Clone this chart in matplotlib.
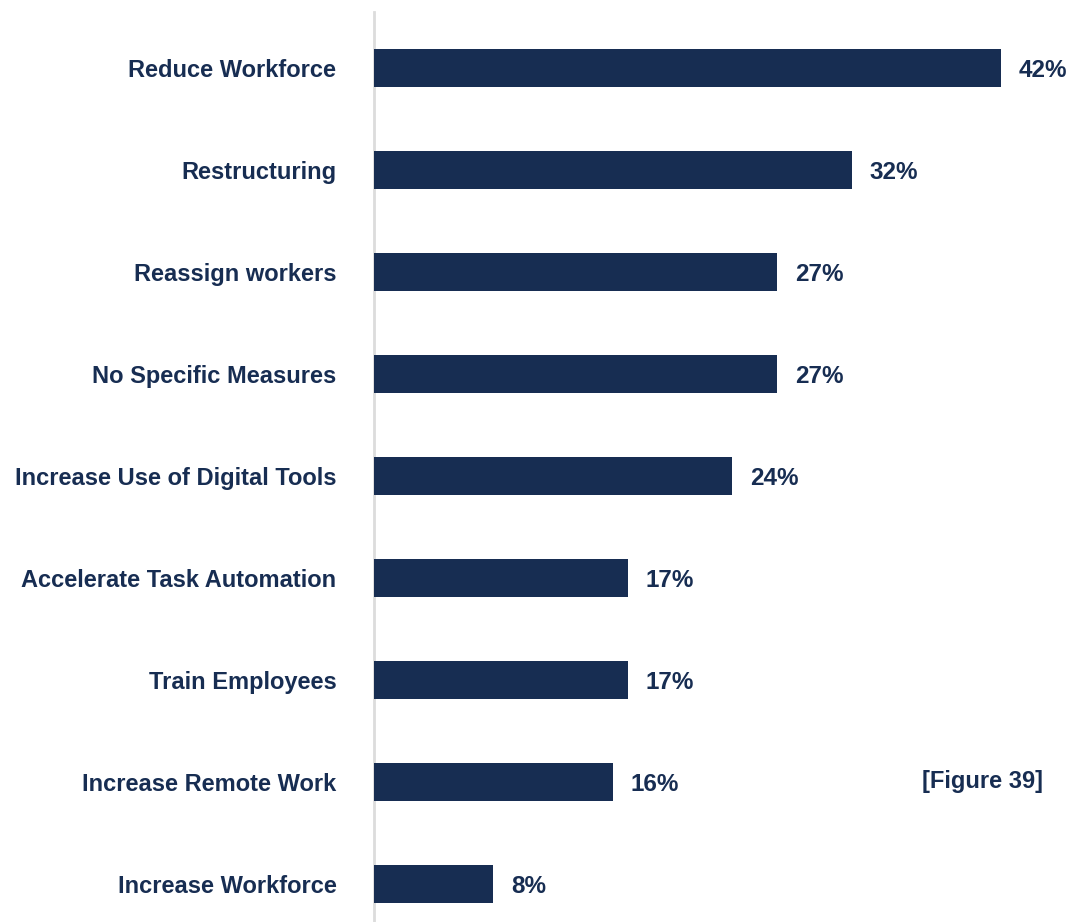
import matplotlib
matplotlib.use("Agg")
import matplotlib.pyplot as plt

categories = [
    "Reduce Workforce",
    "Restructuring",
    "Reassign workers",
    "No Specific Measures",
    "Increase Use of Digital Tools",
    "Accelerate Task Automation",
    "Train Employees",
    "Increase Remote Work",
    "Increase Workforce",
]
values = [42, 32, 27, 27, 24, 17, 17, 16, 8]

NAVY = "#172d52"
W, H = 1072, 922
DPI = 100
FS = 17

plt.rcParams["font.family"] = ["Liberation Sans", "DejaVu Sans"]

fig = plt.figure(figsize=(W / DPI, H / DPI), dpi=DPI)
left_px, top_px = 374, 12
ax = fig.add_axes([left_px / W, 0, (W - left_px) / W, (H - top_px) / H])

px_per_unit = 14.93
pos = list(range(len(categories)))
ax.barh(pos, values, height=0.373, color=NAVY, left=0, zorder=1)
ax.set_xlim(0, (W - left_px) / px_per_unit)
ax.set_ylim(len(categories) - 1 + 0.3725, -0.549)

for s in ["top", "right", "bottom"]:
    ax.spines[s].set_visible(False)
ax.spines["left"].set_color("#dcdcdc")
ax.spines["left"].set_linewidth(2.0)
ax.spines["left"].set_zorder(0)
ax.set_xticks([])
ax.set_yticks(pos)
ax.set_yticklabels(categories, fontsize=FS, fontweight="bold", color=NAVY)
ax.tick_params(axis="y", length=0, pad=27)

for p, v in zip(pos, values):
    ax.annotate(f"{v}%", (v, p), xytext=(18, 0), textcoords="offset pixels",
                va="center_baseline", ha="left", fontsize=FS + 0.5,
                fontweight="bold", color=NAVY)

fig.text(1043 / W, 1 - 779 / H, "[Figure 39]", ha="right", va="center_baseline",
         fontsize=FS, fontweight="bold", color=NAVY)

fig.savefig("out.png", dpi=DPI)
